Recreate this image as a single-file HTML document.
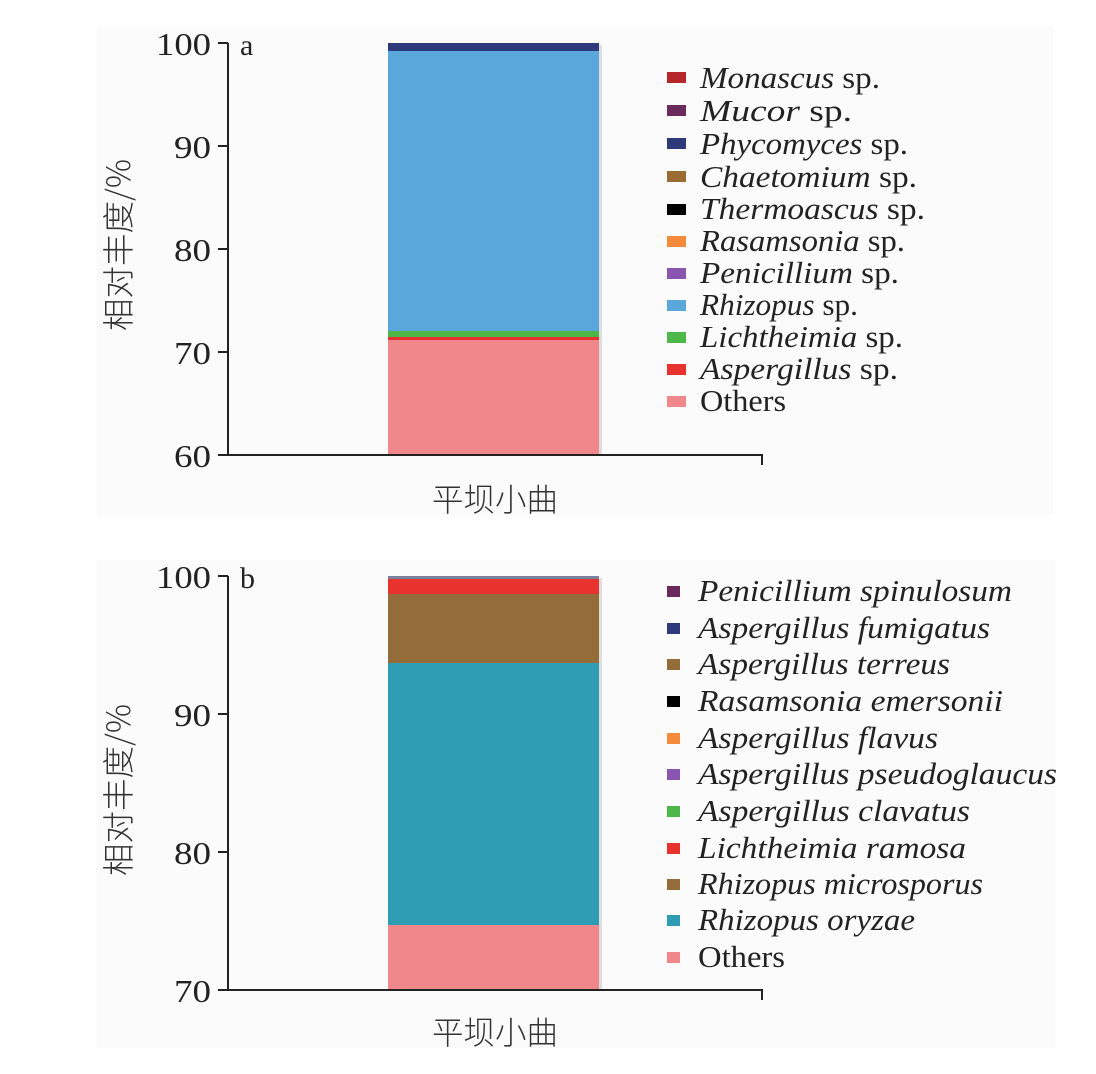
<!DOCTYPE html>
<html><head><meta charset="utf-8"><style>
html,body{margin:0;padding:0;background:#fff;}
svg{display:block;}
text{font-family:"Liberation Serif","Noto Serif CJK SC",serif;fill:#222;}
.cjk{font-family:"Noto Sans CJK SC","WenQuanYi Zen Hei",sans-serif;fill:#333;font-weight:300;}
.lg{font-size:31px;font-style:italic;}
.n{font-style:normal;}
.tk{font-size:32px;}
</style></head><body>
<svg width="1096" height="1074" viewBox="0 0 1096 1074" xmlns="http://www.w3.org/2000/svg">
<rect x="97" y="27" width="956" height="488" fill="#fbfbfb"/>
<rect x="97" y="560" width="958" height="488" fill="#fbfbfb"/>

<g>
<rect x="388" y="336" width="211" height="119" fill="#f0878a"/>
<rect x="388" y="336" width="211" height="4" fill="#e8322e"/>
<rect x="388" y="331" width="211" height="6" fill="#4cb848"/>
<rect x="388" y="51" width="211" height="280" fill="#5aa7db"/>
<rect x="388" y="43" width="211" height="8" fill="#2e3a7a"/>
<rect x="599" y="45" width="3" height="410" fill="#ddd"/>
<path d="M228 43V455H762V465M218 43H228M218 146H228M218 249H228M218 352H228M218 455H228" stroke="#222" stroke-width="2" fill="none"/>
<g class="tk" text-anchor="end">
<text x="211" y="55" textLength="55" lengthAdjust="spacingAndGlyphs">100</text>
<text x="211" y="158" textLength="37" lengthAdjust="spacingAndGlyphs">90</text>
<text x="211" y="261" textLength="37" lengthAdjust="spacingAndGlyphs">80</text>
<text x="211" y="364" textLength="37" lengthAdjust="spacingAndGlyphs">70</text>
<text x="211" y="467" textLength="37" lengthAdjust="spacingAndGlyphs">60</text>
</g>
<text x="240" y="55" style="font-size:30px">a</text>
<text class="cjk" transform="translate(130,245) rotate(-90)" text-anchor="middle" style="font-size:32px" textLength="172" lengthAdjust="spacingAndGlyphs">相对丰度/%</text>
<text class="cjk" x="495" y="511" text-anchor="middle" style="font-size:32px" textLength="126" lengthAdjust="spacingAndGlyphs">平坝小曲</text>
<g>
<rect x="667" y="72" width="19" height="11" fill="#b5272b"/>
<rect x="667" y="105" width="19" height="11" fill="#6a2a5e"/>
<rect x="667" y="138" width="19" height="11" fill="#2e3a7a"/>
<rect x="667" y="171" width="19" height="11" fill="#9a6b32"/>
<rect x="667" y="204" width="19" height="11" fill="#000"/>
<rect x="667" y="236" width="19" height="11" fill="#f48b3a"/>
<rect x="667" y="268" width="19" height="11" fill="#8a55b0"/>
<rect x="667" y="300" width="19" height="11" fill="#5aa7db"/>
<rect x="667" y="332" width="19" height="11" fill="#4cb848"/>
<rect x="667" y="364" width="19" height="11" fill="#e8322e"/>
<rect x="667" y="396" width="19" height="11" fill="#f0878a"/>
</g>
<g class="lg">
<text x="700" y="88" textLength="180" lengthAdjust="spacingAndGlyphs">Monascus <tspan class="n">sp.</tspan></text>
<text x="700" y="121" textLength="152" lengthAdjust="spacingAndGlyphs">Mucor <tspan class="n">sp.</tspan></text>
<text x="700" y="154" textLength="208" lengthAdjust="spacingAndGlyphs">Phycomyces <tspan class="n">sp.</tspan></text>
<text x="700" y="187" textLength="217" lengthAdjust="spacingAndGlyphs">Chaetomium <tspan class="n">sp.</tspan></text>
<text x="700" y="219" textLength="225" lengthAdjust="spacingAndGlyphs">Thermoascus <tspan class="n">sp.</tspan></text>
<text x="700" y="251" textLength="205" lengthAdjust="spacingAndGlyphs">Rasamsonia <tspan class="n">sp.</tspan></text>
<text x="700" y="283" textLength="199" lengthAdjust="spacingAndGlyphs">Penicillium <tspan class="n">sp.</tspan></text>
<text x="700" y="315" textLength="158" lengthAdjust="spacingAndGlyphs">Rhizopus <tspan class="n">sp.</tspan></text>
<text x="700" y="347" textLength="203" lengthAdjust="spacingAndGlyphs">Lichtheimia <tspan class="n">sp.</tspan></text>
<text x="700" y="379" textLength="198" lengthAdjust="spacingAndGlyphs">Aspergillus <tspan class="n">sp.</tspan></text>
<text x="700" y="411" textLength="86" lengthAdjust="spacingAndGlyphs" class="n">Others</text>
</g>
</g>

<g>
<rect x="388" y="925" width="211" height="65" fill="#f0878a"/>
<rect x="388" y="663" width="211" height="262" fill="#2e9db3"/>
<rect x="388" y="594" width="211" height="69" fill="#946c39"/>
<rect x="388" y="579" width="211" height="15" fill="#e8322e"/>
<rect x="388" y="576" width="211" height="3" fill="#7a7f9a"/>
<rect x="599" y="578" width="3" height="412" fill="#ddd"/>
<path d="M228 576V990H762V1000M218 576H228M218 714H228M218 852H228M218 990H228" stroke="#222" stroke-width="2" fill="none"/>
<g class="tk" text-anchor="end">
<text x="211" y="588" textLength="55" lengthAdjust="spacingAndGlyphs">100</text>
<text x="211" y="726" textLength="37" lengthAdjust="spacingAndGlyphs">90</text>
<text x="211" y="864" textLength="37" lengthAdjust="spacingAndGlyphs">80</text>
<text x="211" y="1002" textLength="37" lengthAdjust="spacingAndGlyphs">70</text>
</g>
<text x="240" y="588" style="font-size:30px">b</text>
<text class="cjk" transform="translate(130,790) rotate(-90)" text-anchor="middle" style="font-size:32px" textLength="172" lengthAdjust="spacingAndGlyphs">相对丰度/%</text>
<text class="cjk" x="495" y="1044" text-anchor="middle" style="font-size:32px" textLength="126" lengthAdjust="spacingAndGlyphs">平坝小曲</text>
<g>
<rect x="667" y="586" width="13" height="11" fill="#6a2a5e"/>
<rect x="667" y="623" width="13" height="11" fill="#2e3a7a"/>
<rect x="667" y="659" width="13" height="11" fill="#946c39"/>
<rect x="667" y="696" width="13" height="11" fill="#000"/>
<rect x="667" y="733" width="13" height="11" fill="#f48b3a"/>
<rect x="667" y="769" width="13" height="11" fill="#8a55b0"/>
<rect x="667" y="806" width="13" height="11" fill="#4cb848"/>
<rect x="667" y="843" width="13" height="11" fill="#e8322e"/>
<rect x="667" y="879" width="13" height="11" fill="#946c39"/>
<rect x="667" y="915" width="13" height="11" fill="#2e9db3"/>
<rect x="667" y="952" width="13" height="11" fill="#f0878a"/>
</g>
<g class="lg">
<text x="698" y="601" textLength="314" lengthAdjust="spacingAndGlyphs">Penicillium spinulosum</text>
<text x="698" y="638" textLength="292" lengthAdjust="spacingAndGlyphs">Aspergillus fumigatus</text>
<text x="698" y="674" textLength="252" lengthAdjust="spacingAndGlyphs">Aspergillus terreus</text>
<text x="698" y="711" textLength="305" lengthAdjust="spacingAndGlyphs">Rasamsonia emersonii</text>
<text x="698" y="748" textLength="240" lengthAdjust="spacingAndGlyphs">Aspergillus flavus</text>
<text x="698" y="784" textLength="359" lengthAdjust="spacingAndGlyphs">Aspergillus pseudoglaucus</text>
<text x="698" y="821" textLength="272" lengthAdjust="spacingAndGlyphs">Aspergillus clavatus</text>
<text x="698" y="858" textLength="268" lengthAdjust="spacingAndGlyphs">Lichtheimia ramosa</text>
<text x="698" y="894" textLength="285" lengthAdjust="spacingAndGlyphs">Rhizopus microsporus</text>
<text x="698" y="930" textLength="217" lengthAdjust="spacingAndGlyphs">Rhizopus oryzae</text>
<text x="698" y="967" textLength="87" lengthAdjust="spacingAndGlyphs" class="n">Others</text>
</g>
</g>
</svg>
</body></html>
